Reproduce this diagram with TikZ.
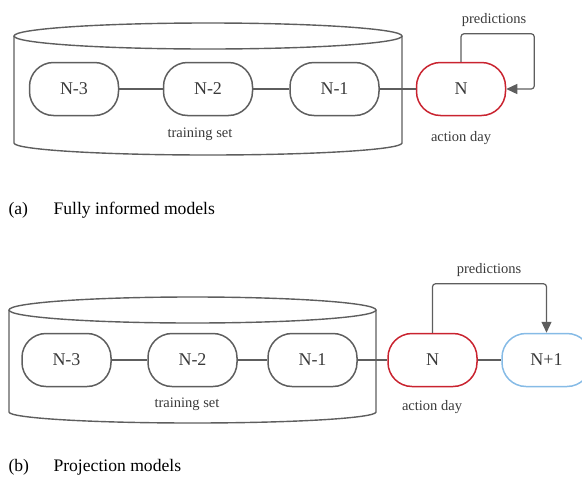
\documentclass[tikz,border=0pt]{standalone}
\usepackage{fontspec}
\setmainfont{Liberation Serif}
\usetikzlibrary{arrows.meta}
\definecolor{linegrey}{HTML}{5E5E5E}
\definecolor{textgrey}{HTML}{3A3A3A}
\definecolor{actred}{HTML}{C9232F}
\definecolor{nextblue}{HTML}{86BBE6}
\begin{document}
\begin{tikzpicture}[x=1pt,y=-1pt,
    day/.style={draw=linegrey,line width=1.5pt,rounded corners=24pt,minimum width=89pt,minimum height=53pt,
        inner sep=0pt,text=textgrey,font=\fontsize{18}{20}\selectfont},
    small/.style={text=textgrey,font=\fontsize{14.5}{17}\selectfont},
    caption/.style={anchor=west,font=\fontsize{17.6}{20}\selectfont},
    link/.style={draw=linegrey,line width=1.2pt},
    predarrow/.style={draw=linegrey,line width=1.2pt,rounded corners=3pt,-{Triangle[length=11pt,width=10pt]}}]
    \clip (0,0) rectangle (582,480);
    %% (a) fully informed
    \draw[linegrey,line width=1.4pt] (208,36) ellipse (194 and 13);
    \draw[linegrey,line width=1.4pt] (14,36) -- (14,143) arc (180:0:194 and 12) -- (402,36);
    \node[day] (a3) at (74,89) {N-3};
    \node[day] (a2) at (208,89) {N-2};
    \node[day] (a1) at (334.5,89) {N-1};
    \node[day,draw=actred] (an) at (461,89) {N};
    \draw[link] (a3) -- (a2);
    \draw[link] (a2) -- (a1);
    \draw[link] (a1) -- (an);
    \draw[predarrow] (an.north) -- ++(0,-28) -| ([xshift=28pt]an.east) -- (an.east);
    \node[small] (apred) at (494,20) {predictions};
    \node[small] (aday) at (461,138) {action day};
    \node[small] (atrain) at (200,134) {training set};
    \node[caption] (alab) at (5,210) {(a)};
    \node[caption] (acap) at (50,210) {Fully informed models};
    %% (b) projection
    \draw[linegrey,line width=1.4pt] (192.5,310) ellipse (183.5 and 13);
    \draw[linegrey,line width=1.4pt] (9,310) -- (9,412) arc (180:0:183.5 and 11) -- (376,310);
    \node[day] (b3) at (66.5,360) {N-3};
    \node[day] (b2) at (192.5,360) {N-2};
    \node[day] (b1) at (312.5,360) {N-1};
    \node[day,draw=actred] (bn) at (432.5,360) {N};
    \node[day,draw=nextblue] (bp) at (546.5,360) {N+1};
    \draw[link] (b3) -- (b2);
    \draw[link] (b2) -- (b1);
    \draw[link] (b1) -- (bn);
    \draw[link] (bn) -- (bp);
    \draw[predarrow] (bn.north) -- ++(0,-49) -| (bp.north);
    \node[small] (bpred) at (489,270) {predictions};
    \node[small] (bday) at (432,407) {action day};
    \node[small] (btrain) at (187,404) {training set};
    \node[caption] (blab) at (5,467) {(b)};
    \node[caption] (bcap) at (50,467) {Projection models};
\end{tikzpicture}
\end{document}
